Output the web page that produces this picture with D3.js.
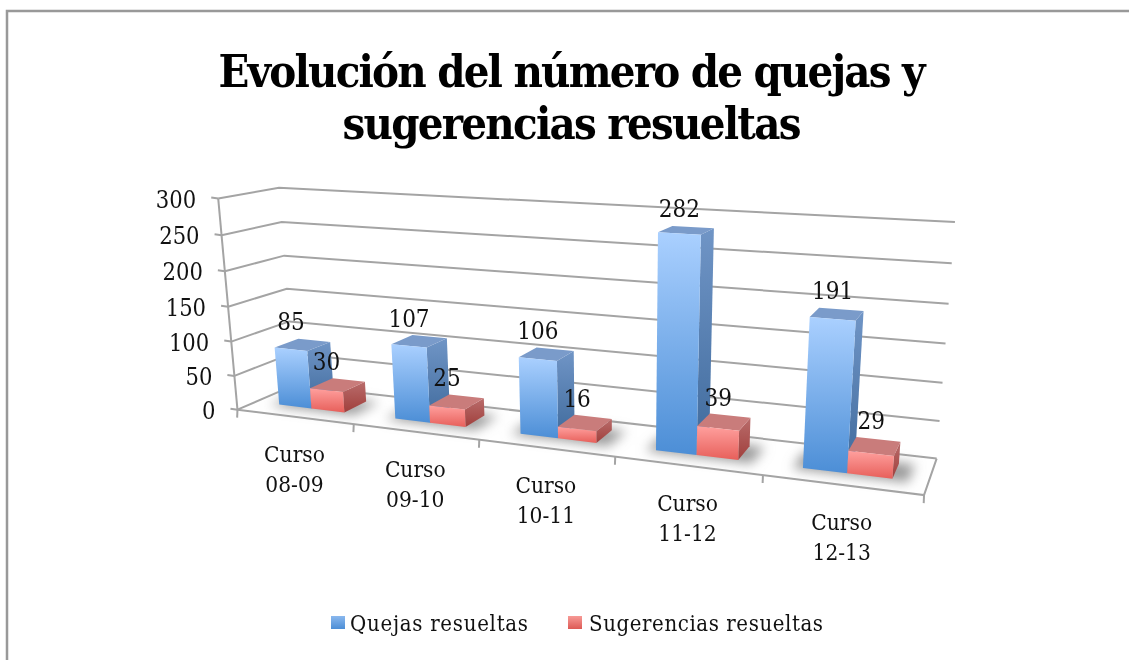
<!DOCTYPE html>
<html><head><meta charset="utf-8">
<script src="https://cdn.jsdelivr.net/npm/d3@7"></script>
<style>html,body{margin:0;padding:0;background:#fff}svg{display:block;filter:blur(0.45px)}text{font-family:"DejaVu Serif Condensed","DejaVu Serif",serif;font-stretch:condensed;fill:#111}</style>
</head><body><svg id="c" width="1129" height="660"></svg>
<script>
const titleLines = ["Evolución del número de quejas y","sugerencias resueltas"];
const categories = ["Curso 08-09","Curso 09-10","Curso 10-11","Curso 11-12","Curso 12-13"];
const quejas = [85,107,106,282,191];
const sugerencias = [30,25,16,39,29];
const seriesNames = ["Quejas resueltas","Sugerencias resueltas"];
const yTicks = [0,50,100,150,200,250,300];

// camera calibration: unit box (u along categories, v up, d into depth) <-> screen
const calib = [
 [0,0,0,237,408],[.2,0,0,353,425],[.4,0,0,478,440],[.6,0,0,615,457],[.8,0,0,763,475],[1,0,0,925,495],
 [1,0,1,936,457],[0,0,1,297,388],[0,1,0,220,199],[0,1,1,278,187],[1,1,1,955,224],
 [0,.5,1,285,287],[1,.5,1,946,343]];
function solve(A,b){const n=b.length,M=A.map((r,i)=>[...r,b[i]]);
 for(let i=0;i<n;i++){let p=i;for(let r=i+1;r<n;r++)if(Math.abs(M[r][i])>Math.abs(M[p][i]))p=r;[M[i],M[p]]=[M[p],M[i]];
  for(let r=0;r<n;r++)if(r!==i){const f=M[r][i]/M[i][i];for(let c=i;c<=n;c++)M[r][c]-=f*M[i][c];}}
 return M.map((r,i)=>r[n]/r[i]);}
const rows=[],rhs=[];
calib.forEach(([u,v,d,x,y])=>{const X=x/1000,Y=y/1000;
 rows.push([u,v,d,1,0,0,0,0,-X*u,-X*v,-X*d]);rhs.push(X);
 rows.push([0,0,0,0,u,v,d,1,-Y*u,-Y*v,-Y*d]);rhs.push(Y);});
const N=d3.range(11).map(i=>d3.range(11).map(j=>d3.sum(rows,r=>r[i]*r[j])));
const B=d3.range(11).map(i=>d3.sum(rows,(r,k)=>r[i]*rhs[k]));
const m=solve(N,B);
function P(u,v,d){const w=m[8]*u+m[9]*v+m[10]*d+1;
 return [1000*(m[0]*u+m[1]*v+m[2]*d+m[3])/w,1000*(m[4]*u+m[5]*v+m[6]*d+m[7])/w];}

const uScale=d3.scaleBand().domain(categories).range([0,1]);
const vScale=d3.scaleLinear().domain([0,300]).range([0,1]);
const dFront=.31,dBack=.73;
const inner=d3.scaleBand().domain([0,1]).range([.21,.78]);

const svg=d3.select("#c");
const defs=svg.append("defs");
function grad(id,c1,c2){const g=defs.append("linearGradient").attr("id",id).attr("x1",0).attr("y1",0).attr("x2",0).attr("y2",1);
 g.append("stop").attr("offset",0).attr("stop-color",c1);g.append("stop").attr("offset",1).attr("stop-color",c2);}
grad("bf","#aad0ff","#4c8ed6");grad("bs","#7095c6","#3f6a9c");
grad("rf","#ffa09e","#e75f5a");grad("rs","#b96c6b","#a03f3c");
grad("lb","#8ab8ee","#4c8ed6");grad("lr","#f79a96","#dd5a55");
defs.append("filter").attr("id","sh").attr("x","-30%").attr("y","-60%").attr("width","160%").attr("height","220%")
 .append("feGaussianBlur").attr("stdDeviation",6);

// frame
svg.append("path").attr("d","M7,660V11H1129").attr("fill","none").attr("stroke","#999").attr("stroke-width",2.5);

const line=d3.line();const grid=svg.append("g").attr("fill","none").attr("stroke","#a4a4a4").attr("stroke-width",2);
yTicks.forEach(t=>{const v=vScale(t);
 grid.append("path").attr("d",line([P(0,v,0),P(0,v,1),P(1,v,1)]));
 const a=P(0,v,0);grid.append("path").attr("d",line([a,[a[0]-7,a[1]-1]]));});
grid.append("path").attr("d",line([P(0,0,0),P(0,1,0)]));
grid.append("path").attr("d",line([P(0,0,0),P(1,0,0),P(1,0,1)]));
d3.range(0,6).forEach(i=>{const a=P(i/5,0,0);grid.append("path").attr("d",line([a,[a[0]-.3,a[1]+8]]));});

// y labels
svg.append("g").selectAll("text").data(yTicks).join("text")
 .attr("x",t=>P(0,vScale(t),0)[0]-22).attr("y",t=>P(0,vScale(t),0)[1]+9).attr("text-anchor","end")
 .attr("font-size",23.5).text(d=>d);

const polys=(g,pts,fill)=>g.append("polygon").attr("points",pts.map(p=>p.join(",")).join(" ")).attr("fill",fill);
const sg=svg.append("g").attr("filter","url(#sh)");
categories.forEach((c,i)=>{const u0=uScale(c),w=uScale.bandwidth();
 const a=u0+(inner(0)-.06)*w,b=u0+(inner(1)+inner.bandwidth()+.1)*w;
 polys(sg,[P(a,0,dFront-.05),P(b,0,dFront-.05),P(b,0,dBack+.03),P(a,0,dBack+.03)],"#9a9a9a");});

function bar(g,c,s,val,f,sd,tp){const u0=uScale(c),w=uScale.bandwidth();
 const a=u0+inner(s)*w,b=a+inner.bandwidth()*w,v=vScale(val);
 polys(g,[P(b,0,dFront),P(b,0,dBack),P(b,v,dBack),P(b,v,dFront)],sd);
 polys(g,[P(a,v,dFront),P(b,v,dFront),P(b,v,dBack),P(a,v,dBack)],tp);
 polys(g,[P(a,0,dFront),P(b,0,dFront),P(b,v,dFront),P(a,v,dFront)],f);}
const bars=svg.append("g");
categories.forEach((c,i)=>{
 bar(bars,c,0,quejas[i],"url(#bf)","url(#bs)","#7a9bca");
 bar(bars,c,1,sugerencias[i],"url(#rf)","url(#rs)","#c97c7b");});

// data labels
const lab=svg.append("g").attr("font-size",24).attr("text-anchor","middle");
function dl(c,s,val){const u0=uScale(c),w=uScale.bandwidth();
 const a=u0+inner(s)*w,b=a+inner.bandwidth()*w,v=vScale(val);
 const x=(P(a,v,dFront)[0]+P(b,v,dFront)[0])/2,y=(P(a,v,dBack)[1]+P(b,v,dBack)[1])/2;
 lab.append("text").attr("x",x).attr("y",y-10).text(val);}
categories.forEach((c,i)=>{dl(c,0,quejas[i]);dl(c,1,sugerencias[i]);});

// category labels
const cl=svg.append("g").attr("font-size",22.5).attr("text-anchor","middle");
categories.forEach(c=>{const p=P(uScale(c)+uScale.bandwidth()/2,0,0);const parts=c.split(" ");
 cl.append("text").attr("x",p[0]).attr("y",p[1]+45).text(parts[0]);
 cl.append("text").attr("x",p[0]).attr("y",p[1]+75).text(parts[1]);});

// title
svg.append("g").attr("font-size",45).attr("font-weight",700).attr("text-anchor","middle")
 .selectAll("text").data(titleLines).join("text")
 .attr("x",572).attr("y",(d,i)=>87+i*52).attr("textLength",(d,i)=>[707,459][i]).attr("lengthAdjust","spacing").style("fill","#000").text(d=>d);

// legend
const lx=[331,568],tx=[350,589],tw=[178,234];
seriesNames.forEach((s,i)=>{
 svg.append("rect").attr("x",lx[i]).attr("y",616).attr("width",14).attr("height",13).attr("fill",i?"url(#lr)":"url(#lb)");
 svg.append("text").attr("x",tx[i]).attr("y",631).attr("font-size",22).attr("textLength",tw[i]).attr("lengthAdjust","spacing").text(s);});
</script></body></html>
